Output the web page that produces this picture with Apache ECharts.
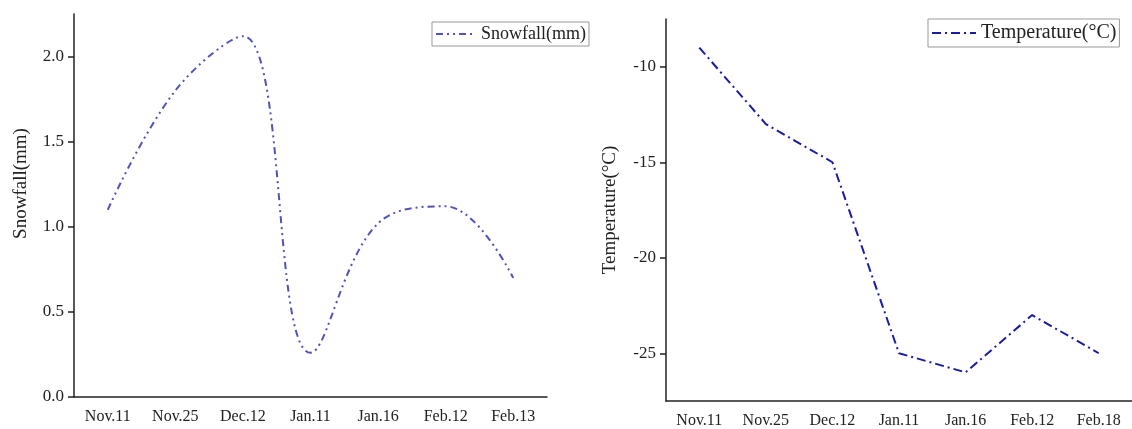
<!DOCTYPE html>
<html>
<head>
<meta charset="utf-8">
<script src="https://cdn.jsdelivr.net/npm/echarts@6/dist/echarts.min.js"></script>
<style>
  html, body { margin: 0; padding: 0; background: #fff; overflow: hidden; }
  #main { width: 1132px; height: 429px; }
</style>
</head>
<body>
<div id="main"></div>
<script>
// 数据
var snowCats = ['Nov.11', 'Nov.25', 'Dec.12', 'Jan.11', 'Jan.16', 'Feb.12', 'Feb.13'];
var snowfall = [1.1, 1.8, 2.12, 0.26, 1.02, 1.12, 0.7];
var snowTicks = [0, 0.5, 1.0, 1.5, 2.0];

var tempCats = ['Nov.11', 'Nov.25', 'Dec.12', 'Jan.11', 'Jan.16', 'Feb.12', 'Feb.18'];
var temperature = [-9, -13, -15, -25, -26, -23, -25];
var tempTicks = [-25, -20, -15, -10];

var font = 'Liberation Serif, Times New Roman, serif';
var axisColor = '#222';

function catAxis(idx, cats) {
    return {
        type: 'category',
        gridIndex: idx,
        data: cats,
        boundaryGap: true,
        axisLine: { lineStyle: { color: axisColor, width: 1.5 } },
        axisTick: { alignWithLabel: true, length: 6, lineStyle: { color: axisColor, width: 1.5 } },
        axisLabel: { color: '#222', fontFamily: font, fontSize: 16, margin: 12 },
        splitLine: { show: false }
    };
}

function valAxis(idx, min, max, ticks, name, gap, pad, fmt) {
    return {
        type: 'value',
        gridIndex: idx,
        min: min,
        max: max,
        name: name,
        nameLocation: 'middle',
        nameGap: gap,
        nameTextStyle: { color: '#222', fontFamily: font, fontSize: 19, padding: pad },
        axisLine: { show: true, lineStyle: { color: axisColor, width: 1.5 } },
        axisTick: { show: true, length: 6, customValues: ticks, lineStyle: { color: axisColor, width: 1.5 } },
        axisLabel: { color: '#222', fontFamily: font, fontSize: 17, margin: 10, customValues: ticks, formatter: fmt },
        splitLine: { show: false }
    };
}

var chart = echarts.init(document.getElementById('main'));

var legendBase = {
    orient: 'horizontal',
    borderColor: '#999',
    borderWidth: 1,
    padding: [3, 3, 3, 3],
    itemGap: 0,
    itemStyle: { opacity: 0 },
    textStyle: { color: '#222', fontFamily: font, fontSize: 18 },
    selectedMode: false
};

chart.setOption({
    animation: false,
    grid: [
        { left: 74, top: 14, width: 473, height: 383 },
        { left: 666, top: 19, width: 474, height: 383 }
    ],
    legend: [
        Object.assign({}, legendBase, { data: ['Snowfall(mm)'], left: 432, top: 22, itemWidth: 40, itemHeight: 14 }),
        Object.assign({}, legendBase, {
            data: ['Temperature(°C)'], left: 928, top: 19, itemWidth: 44, itemHeight: 14,
            padding: [4, 3, 4, 3],
            textStyle: { color: '#222', fontFamily: font, fontSize: 20 }
        })
    ],
    xAxis: [catAxis(0, snowCats), catAxis(1, tempCats)],
    yAxis: [
        valAxis(0, 0, 2.25, snowTicks, 'Snowfall(mm)', 43, [0, 0, 0, 44], function (v) { return v.toFixed(1); }),
        valAxis(1, -27.5, -7.5, tempTicks, 'Temperature(°C)', 46, 0, function (v) { return String(v); })
    ],
    series: [
        {
            name: 'Snowfall(mm)',
            type: 'line',
            xAxisIndex: 0,
            yAxisIndex: 0,
            data: snowfall,
            smooth: 0.4,
            symbol: 'none',
            clip: true,
            color: '#5252b8',
            lineStyle: { color: '#5252b8', width: 2, type: [7, 4, 2, 4, 2, 4] }
        },
        {
            name: 'Temperature(°C)',
            type: 'line',
            xAxisIndex: 1,
            yAxisIndex: 1,
            data: temperature,
            symbol: 'none',
            color: '#1a1aa3',
            lineStyle: { color: '#1a1aa3', width: 2, type: [9, 4, 2, 4] }
        }
    ]
});

window.addEventListener('resize', function () {
    chart.resize();
});
</script>
</body>
</html>
